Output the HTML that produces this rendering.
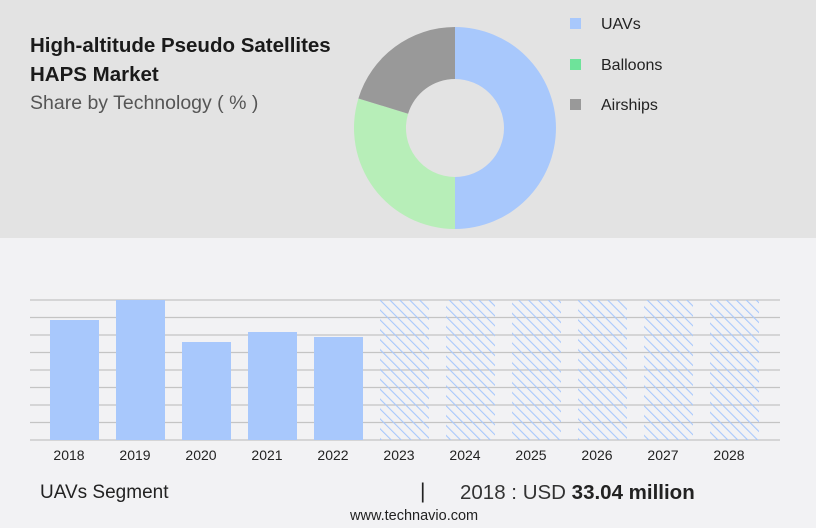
<!DOCTYPE html>
<html><head><style>
body{margin:0;width:816px;height:528px;background:#f2f2f4;font-family:"Liberation Sans",sans-serif;position:relative;overflow:hidden}
.top{position:absolute;left:0;top:0;width:816px;height:238px;background:#e3e3e3}
.t{position:absolute;color:#222;white-space:nowrap}
</style></head><body>
<div class="top"></div>
<div class="t" style="left:30px;top:31px;font-size:20.5px;font-weight:bold;line-height:29px;color:#1a1a1a">High-altitude Pseudo Satellites<br>HAPS Market</div>
<div class="t" style="left:30px;top:92px;font-size:19.5px;color:#555">Share by Technology ( % )</div>
<svg width="816" height="528" style="position:absolute;left:0;top:0">
<defs><pattern id="h" patternUnits="userSpaceOnUse" width="7" height="7" patternTransform="rotate(-45)"><line x1="0" y1="0" x2="0" y2="7" stroke="#a8c8fc" stroke-width="2.2"/></pattern></defs>
<path d="M455 27 A101 101 0 0 1 455 229 L455 177 A49 49 0 0 0 455 79Z" fill="#a8c8fc"/>
<path d="M455 229 A101 101 0 0 1 358.4 98.5 L408.1 113.7 A49 49 0 0 0 455 177Z" fill="#b7eeb8"/>
<path d="M358.4 98.5 A101 101 0 0 1 455 27 L455 79 A49 49 0 0 0 408.1 113.7Z" fill="#999"/>
<rect x="570" y="18" width="11" height="11" fill="#a8c8fc"/>
<rect x="570" y="59" width="11" height="11" fill="#6ee39a"/>
<rect x="570" y="99" width="11" height="11" fill="#999"/>
<g font-size="16" fill="#222"><text x="601" y="29">UAVs</text><text x="601" y="70">Balloons</text><text x="601" y="110">Airships</text></g>
<g stroke="#c4c4c4" stroke-width="1.2">
<line x1="30" x2="780" y1="300" y2="300"/><line x1="30" x2="780" y1="317.5" y2="317.5"/><line x1="30" x2="780" y1="335" y2="335"/><line x1="30" x2="780" y1="352.5" y2="352.5"/><line x1="30" x2="780" y1="370" y2="370"/><line x1="30" x2="780" y1="387.5" y2="387.5"/><line x1="30" x2="780" y1="405" y2="405"/><line x1="30" x2="780" y1="422.5" y2="422.5"/><line x1="30" x2="780" y1="440" y2="440"/></g>
<g fill="#a8c8fc"><rect x="50" y="320" width="49" height="120"/><rect x="116" y="300" width="49" height="140"/><rect x="182" y="342" width="49" height="98"/><rect x="248" y="332" width="49" height="108"/><rect x="314" y="337" width="49" height="103"/></g>
<g fill="url(#h)"><rect x="380" y="300" width="49" height="140"/><rect x="446" y="300" width="49" height="140"/><rect x="512" y="300" width="49" height="140"/><rect x="578" y="300" width="49" height="140"/><rect x="644" y="300" width="49" height="140"/><rect x="710" y="300" width="49" height="140"/></g>
<g font-size="14" fill="#222" text-anchor="middle"><text x="69" y="460">2018</text><text x="135" y="460">2019</text><text x="201" y="460">2020</text><text x="267" y="460">2021</text><text x="333" y="460">2022</text><text x="399" y="460">2023</text><text x="465" y="460">2024</text><text x="531" y="460">2025</text><text x="597" y="460">2026</text><text x="663" y="460">2027</text><text x="729" y="460">2028</text></g>
</svg>
<div class="t" style="left:40px;top:482px;font-size:19px">UAVs Segment</div>
<div class="t" style="left:420px;top:480px;font-size:21px">|</div>
<div class="t" style="left:460px;top:481px;font-size:20.5px;color:#333">2018 : USD <b style="color:#222">33.04 million</b></div>
<div class="t" style="left:350px;top:508px;font-size:14.5px">www.technavio.com</div>
</body></html>
